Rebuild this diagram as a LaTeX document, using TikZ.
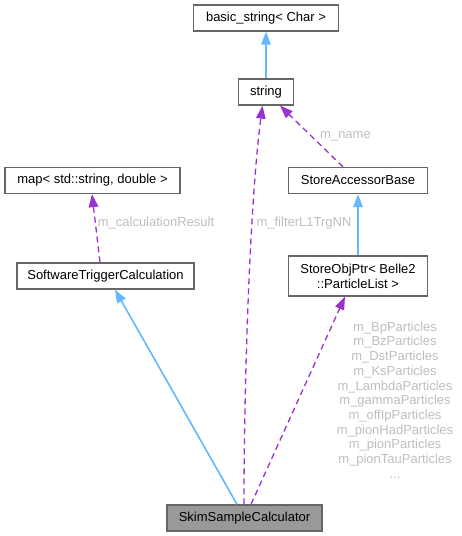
\documentclass[tikz,border=0pt]{standalone}
\usepackage{fontspec}
\setmainfont{Liberation Sans}
\usepackage{tikz}
\usetikzlibrary{arrows.meta}
\definecolor{edgeblue}{HTML}{63B8FF}
\definecolor{edgepurple}{HTML}{9A32CD}
\definecolor{boxline}{HTML}{666666}
\definecolor{labelgrey}{HTML}{BEBEBE}

\begin{document}
\begin{tikzpicture}[x=1pt,y=-1pt,
		cls/.style={rectangle,draw=boxline,fill=white,line width=1.3pt,minimum height=26pt,inner sep=0pt,font=\fontsize{13}{15}\selectfont,align=center},
		inherit/.style={-{Triangle[length=13pt,width=9.5pt]},edgeblue,line width=1.6pt},
		usage/.style={-{Triangle[length=13pt,width=9.5pt]},edgepurple,line width=1.3pt,dash pattern=on 6pt off 4pt},
		lbl/.style={labelgrey,font=\fontsize{13}{14.7}\selectfont,align=center,inner sep=0pt}]
			\useasboundingbox (0,0) rectangle (461,536);
			\node [cls,minimum width=145pt] (basicstr) at (266,18) {basic\_string< Char >};
			\node [cls,minimum width=55pt] (str) at (266,92) {string};
			\node [cls,minimum width=175pt] (mapsd) at (92.5,180.5) {map< std::string, double >};
			\node [cls,minimum width=139pt] (sab) at (358,180.5) {StoreAccessorBase};
			\node [cls,minimum width=177pt] (stc) at (105.5,276) {SoftwareTriggerCalculation};
			\node [cls,minimum width=139pt,minimum height=40pt] (sop) at (358,276) {StoreObjPtr< Belle2\\::ParticleList >};
			\node [cls,minimum width=155pt,fill=gray!80] (ssc) at (244.5,518) {SkimSampleCalculator};
			\node [lbl] (lname) at (345.5,136) {m\_name};
			\node [lbl] (lcalc) at (156,223) {m\_calculationResult};
			\node [lbl] (lfilter) at (304,223) {m\_filterL1TrgNN};
			\node [lbl] (lparts) at (395,400) {m\_BpParticles\\m\_BzParticles\\m\_DstParticles\\m\_KsParticles\\m\_LambdaParticles\\m\_gammaParticles\\m\_offIpParticles\\m\_pionHadParticles\\m\_pionParticles\\m\_pionTauParticles\\...};
			\draw [inherit] (str) -- (basicstr);
			\draw [usage] ([xshift=-15pt]sab.north) -- ([xshift=14pt]str.south);
			\draw [inherit] (sop) -- (sab);
			\draw [usage] ([xshift=-5.5pt]stc.north) -- ([xshift=-0.5pt]mapsd.south);
			\draw [inherit] ([xshift=-7.5pt]ssc.north) -- ([xshift=9.5pt]stc.south);
			\draw [usage] ([xshift=-0.5pt]ssc.north) .. controls (244,380) and (250,200) .. ([xshift=-3.5pt]str.south);
			\draw [usage] ([xshift=6.5pt]ssc.north) -- ([xshift=-13pt]sop.south);
		\end{tikzpicture}
\end{document}
